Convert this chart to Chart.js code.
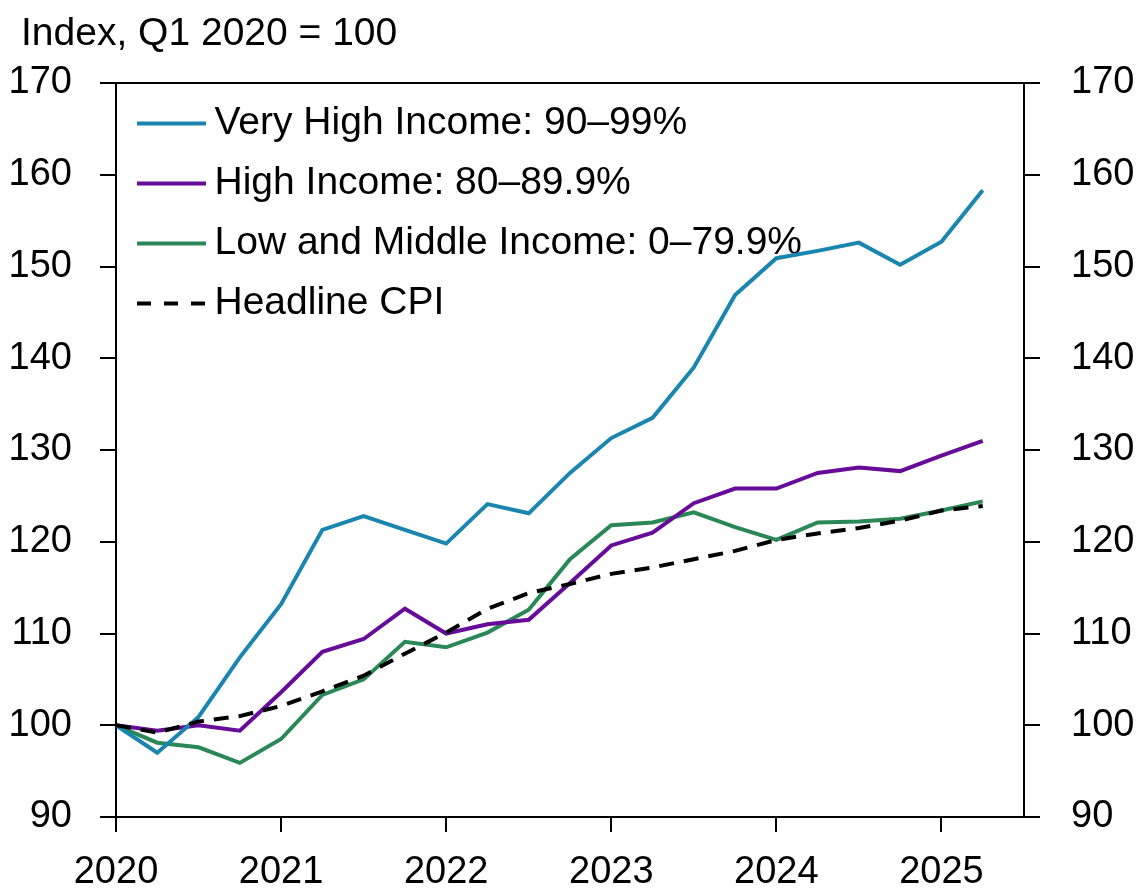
<!DOCTYPE html>
<html>
<head>
<meta charset="utf-8">
<script src="https://cdn.jsdelivr.net/npm/chart.js@4.4.1/dist/chart.umd.min.js"></script>
<style>
  html, body { margin: 0; padding: 0; background: #fff; }
</style>
</head>
<body>
<canvas id="grafico" width="1137" height="894"></canvas>
<script>
// trimestres (Q1 2020 = 100)
const quarters = [
  '2020 Q1', '2020 Q2', '2020 Q3', '2020 Q4',
  '2021 Q1', '2021 Q2', '2021 Q3', '2021 Q4',
  '2022 Q1', '2022 Q2', '2022 Q3', '2022 Q4',
  '2023 Q1', '2023 Q2', '2023 Q3', '2023 Q4',
  '2024 Q1', '2024 Q2', '2024 Q3', '2024 Q4',
  '2025 Q1', '2025 Q2'
];

const veryHigh = [100, 97.0, 100.9, 107.4, 113.2, 121.3, 122.8, 121.3, 119.8, 124.1, 123.1,
  127.5, 131.3, 133.5, 139.0, 146.9, 150.9, 151.7, 152.6, 150.2, 152.7, 158.3];
const high = [100, 99.4, 100.0, 99.4, 103.6, 108.0, 109.4, 112.7, 110.0, 111.0, 111.5,
  115.5, 119.6, 121.0, 124.2, 125.8, 125.8, 127.5, 128.1, 127.7, 129.4, 131.0];
const lowMid = [100, 98.1, 97.6, 95.9, 98.5, 103.3, 105.0, 109.1, 108.5, 110.1, 112.6,
  118.1, 121.8, 122.1, 123.2, 121.6, 120.2, 122.1, 122.2, 122.5, 123.4, 124.4];
const cpi = [100, 99.2, 100.4, 101.0, 102.1, 103.7, 105.4, 107.8, 110.1, 112.7, 114.4,
  115.4, 116.5, 117.2, 118.1, 119.0, 120.2, 120.9, 121.5, 122.3, 123.4, 123.9];

const seriesNames = [
  'Very High Income: 90\u201399%',
  'High Income: 80\u201389.9%',
  'Low and Middle Income: 0\u201379.9%',
  'Headline CPI'
];
const yTicks = [90, 100, 110, 120, 130, 140, 150, 160, 170];
const yearTicks = [2020, 2021, 2022, 2023, 2024, 2025];
const unitLabel = 'Index, Q1 2020 = 100';

// converte '2020 Q2' em 2020.25
function toYear(q) {
  return Number(q.slice(0, 4)) + (Number(q.slice(6)) - 1) / 4;
}
function pontos(valores) {
  return valores.map((v, i) => ({ x: toYear(quarters[i]), y: v }));
}

// amostra da legenda (linha cheia ou tracejada)
function amostra(cor, largura, tracejado) {
  const c = document.createElement('canvas');
  c.width = 80;
  c.height = 10;
  const g = c.getContext('2d');
  g.strokeStyle = cor;
  g.lineWidth = largura;
  g.setLineDash(tracejado || []);
  g.beginPath();
  g.moveTo(11, 5);
  g.lineTo(80, 5);
  g.stroke();
  return c;
}

const familia = '"Liberation Sans", Arial, sans-serif';
const fonteTicks = { family: familia, size: 38 };
const fonteTexto = { family: familia, size: 39 };

// titulo do eixo, moldura superior e legenda dentro da area
const extras = {
  id: 'extras',
  afterLayout(chart) {
    const a = chart.chartArea;
    chart.legend.top = a.top;
    chart.legend.bottom = a.bottom;
  },
  afterDraw(chart) {
    const c = chart.ctx;
    const a = chart.chartArea;
    c.save();
    c.strokeStyle = '#000';
    c.lineWidth = 2;
    c.beginPath();
    c.moveTo(a.left, a.top);
    c.lineTo(a.right, a.top);
    c.stroke();
    c.fillStyle = '#000';
    c.font = '39px ' + familia;
    c.textBaseline = 'alphabetic';
    c.fillText(unitLabel, 21, 45);
    c.restore();
  }
};

const eixoY = (pos, pad) => ({
  type: 'linear',
  position: pos,
  min: 90,
  max: 170,
  afterBuildTicks: s => { s.ticks = yTicks.map(v => ({ value: v })); },
  afterFit: s => { s.width = pos === 'left' ? 116 : 113; },
  border: { display: true, color: '#000', width: 2 },
  grid: { drawOnChartArea: false, drawTicks: true, tickLength: 16, color: '#000', lineWidth: 2 },
  ticks: { color: '#000', font: fonteTicks, padding: pad, callback: v => String(v) }
});

const cores = ['#1A86AF', '#660C99', '#2A8756', '#000000'];

new Chart(document.getElementById('grafico'), {
  type: 'line',
  data: {
    datasets: [
      { label: seriesNames[0], data: pontos(veryHigh), borderColor: cores[0], borderWidth: 4, order: 1,
        pointStyle: amostra(cores[0], 4) },
      { label: seriesNames[1], data: pontos(high), borderColor: cores[1], borderWidth: 4, order: 2,
        pointStyle: amostra(cores[1], 4) },
      { label: seriesNames[2], data: pontos(lowMid), borderColor: cores[2], borderWidth: 4, order: 3,
        pointStyle: amostra(cores[2], 4) },
      { label: seriesNames[3], data: pontos(cpi), borderColor: cores[3], borderWidth: 4, borderDash: [15, 10], order: 0,
        pointStyle: amostra(cores[3], 4, [14, 13]) }
    ]
  },
  options: {
    responsive: false,
    animation: false,
    devicePixelRatio: 1,
    layout: { padding: { top: 83, left: 0, right: 0, bottom: 0 } },
    elements: { point: { radius: 0 }, line: { tension: 0, borderCapStyle: 'butt' } },
    plugins: {
      tooltip: { enabled: false },
      legend: {
        position: 'chartArea',
        align: 'start',
        labels: {
          color: '#000',
          font: fonteTexto,
          usePointStyle: true,
          pointStyleWidth: 58,
          padding: 21,
          sort: (a, b) => a.datasetIndex - b.datasetIndex
        }
      }
    },
    scales: {
      x: {
        type: 'linear',
        min: 2020,
        max: 2025.5,
        afterBuildTicks: s => { s.ticks = yearTicks.map(v => ({ value: v })); },
        afterFit: s => { s.height = 77; },
        border: { display: true, color: '#000', width: 2 },
        grid: { drawOnChartArea: false, drawTicks: true, tickLength: 15, color: '#000', lineWidth: 2 },
        ticks: { color: '#000', font: fonteTicks, padding: 18, maxRotation: 0, callback: v => String(v) }
      },
      y: eixoY('left', 28),
      y2: eixoY('right', 31)
    }
  },
  plugins: [extras]
});
</script>
</body>
</html>
